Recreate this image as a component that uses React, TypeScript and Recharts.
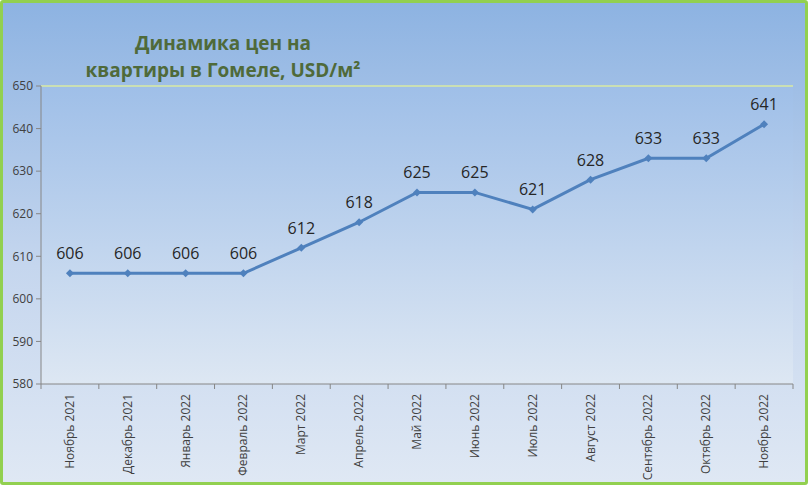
import { LineChart, Line, XAxis, YAxis, CartesianGrid, LabelList, ReferenceLine } from "recharts";

const months = [
  "Ноябрь 2021",
  "Декабрь 2021",
  "Январь 2022",
  "Февраль 2022",
  "Март 2022",
  "Апрель 2022",
  "Май 2022",
  "Июнь 2022",
  "Июль 2022",
  "Август 2022",
  "Сентябрь 2022",
  "Октябрь 2022",
  "Ноябрь 2022",
];

const prices = [606, 606, 606, 606, 612, 618, 625, 625, 621, 628, 633, 633, 641];

const yTicks = [580, 590, 600, 610, 620, 630, 640, 650];

const data = months.map((month, i) => ({ month, price: prices[i] }));

const FONT = "'Open Sans', 'Noto Sans', sans-serif";
const BAND = 752 / months.length;

function MonthTick(props: any) {
  const { x, y, payload, index } = props;
  return (
    <g>
      <line x1={x - BAND / 2} y1={y - 8} x2={x - BAND / 2} y2={y - 3} stroke="#868686" />
      {index === months.length - 1 && (
        <line x1={x + BAND / 2} y1={y - 8} x2={x + BAND / 2} y2={y - 3} stroke="#868686" />
      )}
      <text
        x={x}
        y={y}
        transform={`rotate(-90, ${x}, ${y})`}
        textAnchor="end"
        dy={4}
        dx={-2}
        fontSize={12}
        fill="#404040"
        fontFamily={FONT}
      >
        {payload.value}
      </text>
    </g>
  );
}

export default function App() {
  return (
    <div>
      <style>{`body{margin:0}`}</style>
      <div
        style={{
          position: "relative",
          width: 808,
          height: 485,
          boxSizing: "border-box",
          border: "3px solid #92d050",
          borderRadius: 3,
          background: "linear-gradient(to bottom, #8db3e2 0%, #c5d6ee 55%, #dfe8f4 100%)",
        }}
      >
        <div
          style={{
            position: "absolute",
            left: 80,
            width: 280,
            top: 27,
            textAlign: "center",
            fontFamily: FONT,
            fontWeight: 700,
            fontSize: 19,
            lineHeight: "27px",
            color: "#4f6a3a",
          }}
        >
          Динамика цен на
          <br />
          квартиры в Гомеле, USD/м²
        </div>
        <LineChart
          width={802}
          height={479}
          data={data}
          margin={{ top: 83, right: 12, bottom: 8, left: 0 }}
          style={{ position: "absolute", left: 0, top: 0 }}
        >
          <defs>
            <linearGradient id="plotFill" x1="0" y1="0" x2="0" y2="1">
              <stop offset="0%" stopColor="#9fbfe8" />
              <stop offset="100%" stopColor="#dde7f3" />
            </linearGradient>
          </defs>
          <CartesianGrid horizontal={false} vertical={false} fill="url(#plotFill)" />
          <XAxis
            dataKey="month"
            interval={0}
            height={90}
            padding={{ left: BAND / 2, right: BAND / 2 }}
            tickLine={false}
            axisLine={{ stroke: "#868686" }}
            tick={<MonthTick />}
          />
          <YAxis
            yAxisId="left"
            domain={[580, 650]}
            ticks={yTicks}
            width={38}
            tickSize={5}
            tickMargin={3}
            tickLine={{ stroke: "#868686" }}
            axisLine={{ stroke: "#868686" }}
            tick={{ fontSize: 12, fill: "#404040", fontFamily: FONT }}
          />
          <YAxis
            yAxisId="right"
            orientation="right"
            domain={[580, 650]}
            width={0}
            tick={false}
            tickLine={false}
            axisLine={{ stroke: "#d9eaa3", strokeWidth: 1.5 }}
          />
          <ReferenceLine yAxisId="left" y={650} stroke="#d9eaa3" strokeWidth={1.5} />
          <Line
            yAxisId="left"
            type="linear"
            dataKey="price"
            stroke="#4f81bd"
            strokeWidth={3}
            dot={(p: any) => (
              <path
                key={p.index}
                d={`M${p.cx},${p.cy - 4}L${p.cx + 4},${p.cy}L${p.cx},${p.cy + 4}L${p.cx - 4},${p.cy}Z`}
                fill="#4f81bd"
              />
            )}
            isAnimationActive={false}
          >
            <LabelList
              dataKey="price"
              position="top"
              offset={14}
              fontSize={16}
              fill="#262626"
              fontFamily={FONT}
            />
          </Line>
        </LineChart>
      </div>
    </div>
  );
}
